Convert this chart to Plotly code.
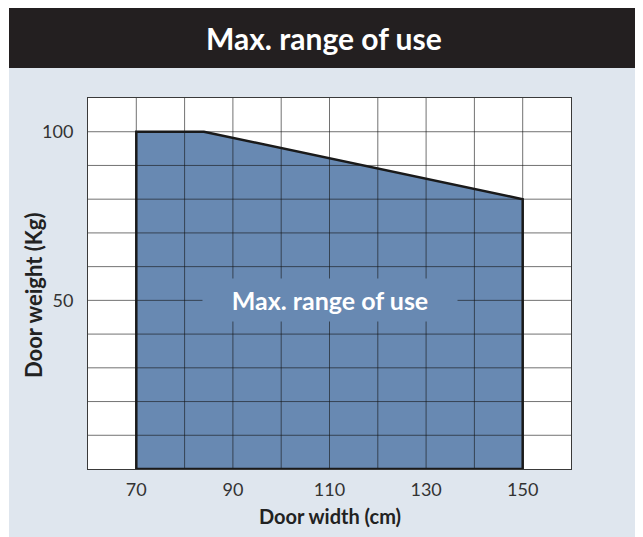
import plotly.graph_objects as go

# ---- data ----
width_cm = [70, 70, 84, 150, 150]      # door width of polygon vertices
weight_kg = [0, 100, 100, 80, 0]       # max door weight at each vertex
x_ticks = [70, 90, 110, 130, 150]
y_ticks = [50, 100]
x_grid = list(range(70, 151, 10))
y_grid = list(range(10, 101, 10))
x_range = [60, 160]
y_range = [0, 110]

FIG_W, FIG_H = 643, 537
OFF = 8  # page body margin
ML, MR, MT, MB = 80, 80, 90, 76
PW = FIG_W - ML - MR
PH = FIG_H - MT - MB

def px_x(p):
    return (p - OFF - ML) / PW

def px_y(p):
    return (FIG_H - MB - (p - OFF)) / PH

FILL = "#6889b2"
PANEL = "#dfe6ee"
DARK = "#231f20"
FONT = "Lato"

fig = go.Figure()

# filled polygon
fig.add_trace(go.Scatter(
    x=width_cm + [width_cm[0]], y=weight_kg + [weight_kg[0]],
    fill="toself", fillcolor=FILL, mode="lines",
    line=dict(width=0, color=FILL), hoverinfo="skip", showlegend=False))

# grid lines drawn above the fill
gx, gy = [], []
for v in x_grid:
    gx += [v, v, None]
    gy += [y_range[0], y_range[1], None]
for v in y_grid:
    gx += [x_range[0], x_range[1], None]
    gy += [v, v, None]
fig.add_trace(go.Scatter(
    x=gx, y=gy, mode="lines", line=dict(color="rgba(20,20,20,0.6)", width=1),
    hoverinfo="skip", showlegend=False))

# polygon outline
fig.add_trace(go.Scatter(
    x=width_cm + [width_cm[0]], y=weight_kg + [weight_kg[0]], mode="lines",
    line=dict(color="#1a1a1a", width=2.5), hoverinfo="skip", showlegend=False))

shapes = [
    dict(type="rect", xref="paper", yref="paper", layer="below",
         x0=px_x(9), x1=px_x(638), y0=px_y(560), y1=px_y(68),
         fillcolor=PANEL, line=dict(width=0)),
    dict(type="rect", xref="paper", yref="paper", layer="below",
         x0=px_x(9), x1=px_x(638), y0=px_y(68), y1=px_y(7.5),
         fillcolor=DARK, line=dict(width=0)),
    dict(type="rect", xref="paper", yref="paper", layer="below",
         x0=0, x1=1, y0=0, y1=1, fillcolor="white", line=dict(width=0)),
]

annotations = [
    dict(text="<b>Max. range of use</b>", xref="paper", yref="paper",
         x=px_x(324), y=px_y(38), showarrow=False,
         font=dict(family=FONT, size=30, color="white"),
         xanchor="center", yanchor="middle"),
    dict(text="<b>Max. range of use</b>", xref="x", yref="y", x=110, y=50,
         showarrow=False, font=dict(family=FONT, size=25, color="white"),
         bgcolor=FILL, width=252, height=40, xanchor="center", yanchor="middle"),
    dict(text="<b>Door width (cm)</b>", xref="paper", yref="paper",
         x=0.5, y=px_y(516), showarrow=False,
         font=dict(family=FONT, size=20, color="#222"),
         xanchor="center", yanchor="middle"),
    dict(text="<b>Door weight (Kg)</b>", xref="paper", yref="paper",
         x=px_x(33), y=px_y(296), showarrow=False, textangle=-90,
         font=dict(family=FONT, size=22, color="#222"),
         xanchor="center", yanchor="middle"),
]

fig.update_layout(
    width=FIG_W, height=FIG_H,
    margin=dict(l=ML, r=MR, t=MT, b=MB, pad=0),
    paper_bgcolor="white", plot_bgcolor="rgba(0,0,0,0)",
    shapes=shapes, annotations=annotations, showlegend=False,
    font=dict(family=FONT, size=18, color="#333"),
)
fig.update_xaxes(range=x_range, tickvals=x_ticks, showgrid=False, zeroline=False,
                 showline=True, mirror=True, linecolor="#3a3a3a", linewidth=1,
                 ticks="", ticklabelstandoff=4, fixedrange=True)
fig.update_yaxes(range=y_range, tickvals=y_ticks, showgrid=False, zeroline=False,
                 showline=True, mirror=True, linecolor="#3a3a3a", linewidth=1,
                 ticks="", ticklabelstandoff=10, fixedrange=True)

fig.write_html("out.html")
